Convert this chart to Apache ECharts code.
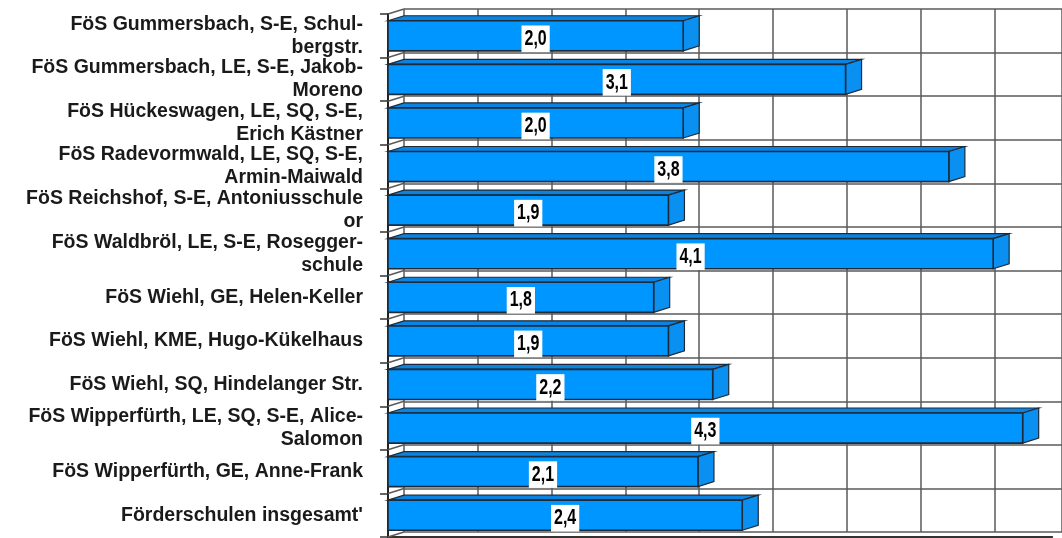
<!DOCTYPE html>
<html>
<head>
<meta charset="utf-8">
<script src="https://cdn.jsdelivr.net/npm/echarts@6/dist/echarts.min.js"></script>
<style>
html,body{margin:0;padding:0;background:#fff;}
#chart{width:1062px;height:538px;}
</style>
</head>
<body>
<div id="chart"></div>
<script>
const categories = [
  "FöS Gummersbach, S-E, Schul-\nbergstr.",
  "FöS Gummersbach, LE, S-E, Jakob-\nMoreno",
  "FöS Hückeswagen, LE, SQ, S-E,\nErich Kästner",
  "FöS Radevormwald, LE, SQ, S-E,\nArmin-Maiwald",
  "FöS Reichshof, S-E, Antoniusschule\nor",
  "FöS Waldbröl, LE, S-E, Rosegger-\nschule",
  "FöS Wiehl, GE, Helen-Keller",
  "FöS Wiehl, KME, Hugo-Kükelhaus",
  "FöS Wiehl, SQ, Hindelanger Str.",
  "FöS Wipperfürth, LE, SQ, S-E, Alice-\nSalomon",
  "FöS Wipperfürth, GE, Anne-Frank",
  "Förderschulen insgesamt'"
];
const values = [2.0, 3.1, 2.0, 3.8, 1.9, 4.1, 1.8, 1.9, 2.2, 4.3, 2.1, 2.4];
const axisMin = 0;
const axisMax = 4.5;
const gridStep = 0.5;

const W = 1062;
const PX_PER_UNIT = 147.6;
const FRONT_LEFT = 388, FRONT_TOP = 14, PLOT_H = 523;
const DX = 16, DY = -5;
const BACK_LEFT = FRONT_LEFT + DX;
const backMax = (W - BACK_LEFT) / PX_PER_UNIT;

const chart = echarts.init(document.getElementById('chart'), null, {renderer: 'canvas'});

const gridColor = '#5a5a5a';
const edgeColor = '#1d2b3a';

function renderItem(params, api) {
  const v = api.value(0);
  const idx = api.value(1);
  const start = api.coord([0, idx]);
  const end = api.coord([v, idx]);
  const band = api.size([0, 1])[1];
  const h = band * 0.69;
  const cy = start[1];
  const top = cy - h / 2, bot = cy + h / 2;
  const x0 = start[0], x1 = end[0];
  const children = [];
  const bandTop = cy - band / 2;
  children.push({type: 'line', shape: {x1: x0, y1: bandTop, x2: x0 + DX, y2: bandTop + DY},
    style: {stroke: gridColor, lineWidth: 1.5}});
  if (idx === categories.length - 1) {
    const bandBot = cy + band / 2;
    children.push({type: 'line', shape: {x1: x0, y1: bandBot, x2: x0 + DX, y2: bandBot + DY},
      style: {stroke: gridColor, lineWidth: 1.5}});
  }
  children.push({type: 'polygon', shape: {points: [[x0, top], [x0 + DX, top + DY], [x1 + DX, top + DY], [x1, top]]},
    style: {fill: '#0a84e0', stroke: edgeColor, lineWidth: 1.2}});
  children.push({type: 'polygon', shape: {points: [[x1, top], [x1 + DX, top + DY], [x1 + DX, bot + DY], [x1, bot]]},
    style: {fill: '#0a90f0', stroke: edgeColor, lineWidth: 1.2}});
  children.push({type: 'rect', shape: {x: x0, y: top, width: x1 - x0, height: h},
    style: {fill: '#0096ff', stroke: edgeColor, lineWidth: 1.6}});
  children.push({type: 'text', x: (x0 + x1) / 2, y: cy + 3, scaleY: 1.4,
    style: {text: v.toFixed(1).replace('.', ','), align: 'center', verticalAlign: 'middle',
      font: 'bold 16px "Liberation Sans", Arial, sans-serif', fill: '#000',
      backgroundColor: '#fff', padding: [2, 3, 1, 3]}});
  return {type: 'group', children: children};
}

const option = {
  animation: false,
  backgroundColor: '#fff',
  grid: [
    {left: BACK_LEFT, top: FRONT_TOP + DY, width: W - BACK_LEFT, height: PLOT_H},
    {left: FRONT_LEFT, top: FRONT_TOP, width: (axisMax - axisMin) * PX_PER_UNIT, height: PLOT_H}
  ],
  xAxis: [
    {gridIndex: 0, type: 'value', min: axisMin, max: backMax, interval: gridStep,
      axisLine: {show: false}, axisTick: {show: false}, axisLabel: {show: false},
      splitLine: {show: true, lineStyle: {color: gridColor, width: 1.5}}},
    {gridIndex: 1, type: 'value', min: axisMin, max: axisMax, interval: gridStep,
      axisLine: {show: true, lineStyle: {color: '#333', width: 2}}, axisTick: {show: false},
      axisLabel: {show: false}, splitLine: {show: false}}
  ],
  yAxis: [
    {gridIndex: 0, type: 'category', data: categories, inverse: true,
      axisLine: {show: false}, axisTick: {show: false}, axisLabel: {show: false},
      splitLine: {show: true, lineStyle: {color: gridColor, width: 1.5}}},
    {gridIndex: 1, type: 'category', data: categories, inverse: true,
      axisLine: {show: true, lineStyle: {color: '#222', width: 2}},
      axisTick: {show: true, length: 8, lineStyle: {color: '#333', width: 1.5}},
      axisLabel: {interval: 0, hideOverlap: false, margin: 25, fontSize: 19.5, fontWeight: 'bold',
        fontFamily: '"Liberation Sans", Arial, sans-serif',
        color: '#1a1a1a', lineHeight: 23, align: 'right'},
      splitLine: {show: false}}
  ],
  series: [{
    type: 'custom', xAxisIndex: 1, yAxisIndex: 1,
    data: values.map((v, i) => [v, i]),
    encode: {x: 0, y: 1},
    renderItem: renderItem,
    clip: false
  }]
};
chart.setOption(option);
</script>
</body>
</html>
